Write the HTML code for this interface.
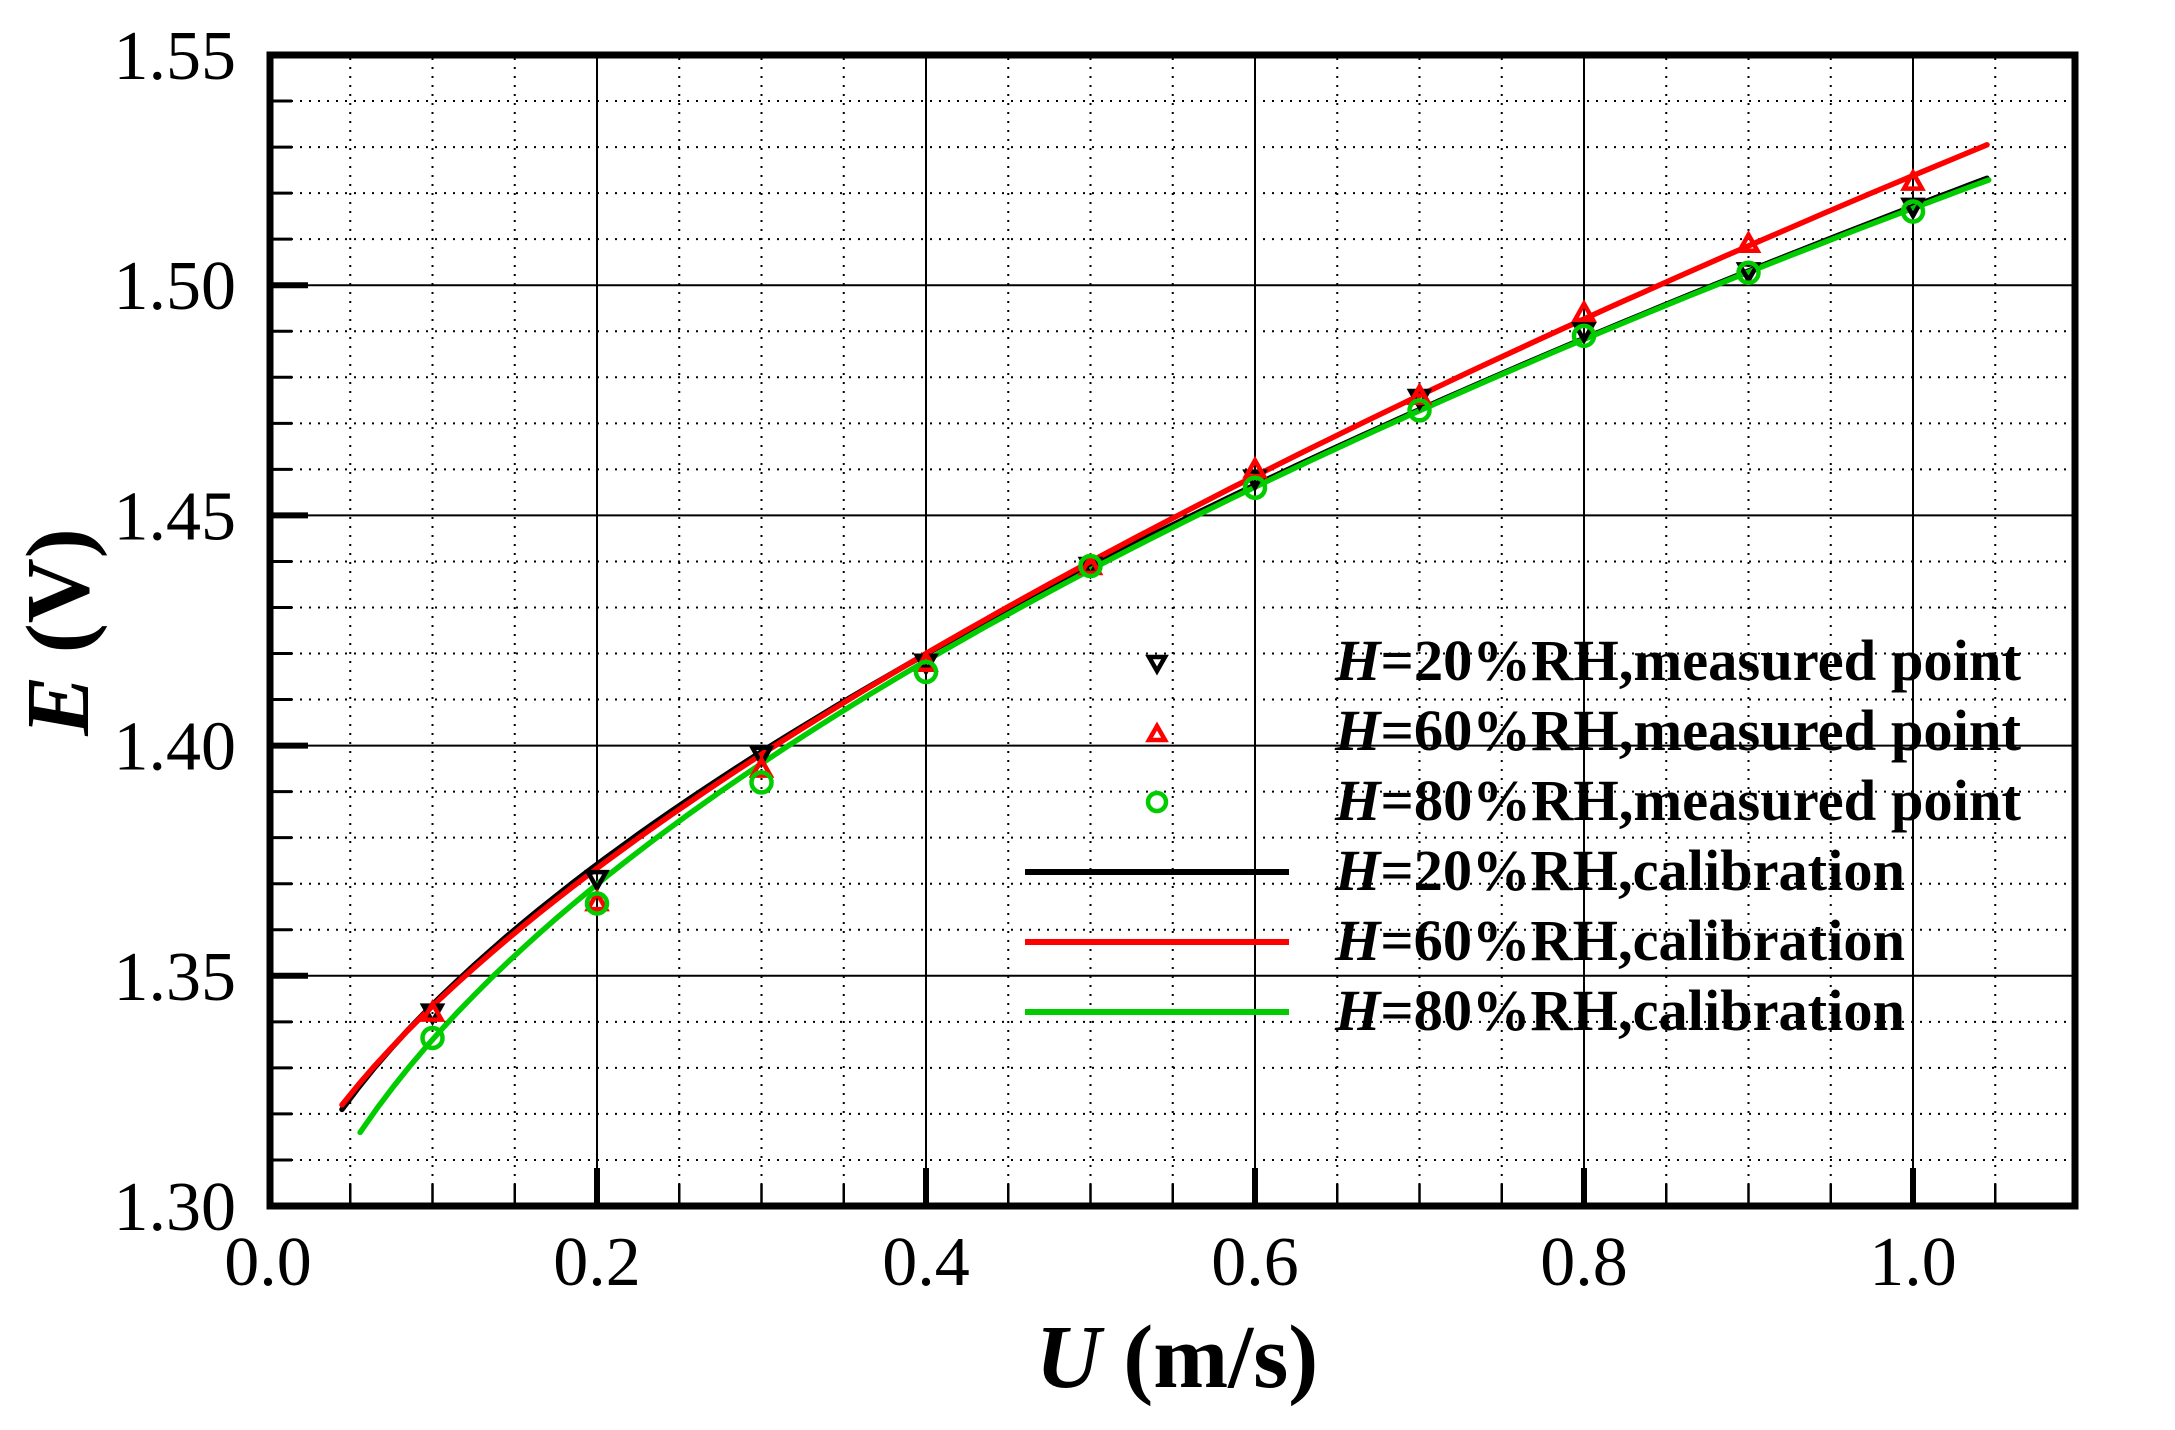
<!DOCTYPE html>
<html><head><meta charset="utf-8"><style>
html,body{margin:0;padding:0;background:#fff;}
svg{display:block;font-family:"Liberation Serif",serif;}
</style></head><body>
<svg id="s" width="2175" height="1430" viewBox="0 0 2175 1430" xmlns="http://www.w3.org/2000/svg">
<g id="grid"></g>
<g id="curves" fill="none" stroke-width="5.5" stroke-linejoin="round" stroke-linecap="round"></g>
<g id="marks" fill="none" stroke-width="4.5"></g>
<rect x="270" y="55" width="1805" height="1151" fill="none" stroke="#000" stroke-width="7"/>
<g id="labels" font-size="70" fill="#000"></g>
<text x="1177" y="1387" font-size="90" font-weight="bold" text-anchor="middle"><tspan font-style="italic">U</tspan> (m/s)</text>
<text transform="translate(88,632) rotate(-90)" font-size="90" font-weight="bold" text-anchor="middle"><tspan font-style="italic">E</tspan> (V)</text>
<g font-size="58" font-weight="bold">
<text x="1335" y="680" textLength="686" lengthAdjust="spacingAndGlyphs"><tspan font-style="italic">H</tspan>=20%RH,measured point</text>
<text x="1335" y="750" textLength="686" lengthAdjust="spacingAndGlyphs"><tspan font-style="italic">H</tspan>=60%RH,measured point</text>
<text x="1335" y="820" textLength="686" lengthAdjust="spacingAndGlyphs"><tspan font-style="italic">H</tspan>=80%RH,measured point</text>
<text x="1335" y="890" textLength="570" lengthAdjust="spacingAndGlyphs"><tspan font-style="italic">H</tspan>=20%RH,calibration</text>
<text x="1335" y="960" textLength="570" lengthAdjust="spacingAndGlyphs"><tspan font-style="italic">H</tspan>=60%RH,calibration</text>
<text x="1335" y="1030" textLength="570" lengthAdjust="spacingAndGlyphs"><tspan font-style="italic">H</tspan>=80%RH,calibration</text>
</g>
<line x1="1025" y1="872" x2="1289" y2="872" stroke="#000" stroke-width="6"/>
<line x1="1025" y1="942" x2="1289" y2="942" stroke="#f00" stroke-width="6"/>
<line x1="1025" y1="1012" x2="1289" y2="1012" stroke="#00cc00" stroke-width="6"/>
<polygon points="1149,657 1165,657 1157,671" fill="none" stroke="#000" stroke-width="4.5"/>
<polygon points="1149,740 1165,740 1157,726" fill="none" stroke="#f00" stroke-width="4.5"/>
<circle cx="1157" cy="802" r="9" fill="none" stroke="#00cc00" stroke-width="4.5"/>
</svg>
<script>
var NS="http://www.w3.org/2000/svg";
function X(u){return 268+u*1645;}
function Y(e){return 1206-(e-1.30)*4604;}
function el(p,t,a){var e=document.createElementNS(NS,t);for(var k in a)e.setAttribute(k,a[k]);p.appendChild(e);return e;}
var g=document.getElementById('grid');
// minor vertical dotted
for(var i=1;i<=21;i++){var u=i*0.05;var x=X(u);if(x>2072)break;
 if(i%4==0){el(g,'line',{x1:x,y1:58,x2:x,y2:1203,stroke:'#000','stroke-width':2});
  el(g,'line',{x1:x,y1:1168,x2:x,y2:1206,stroke:'#000','stroke-width':6});}
 else{el(g,'line',{x1:x,y1:58,x2:x,y2:1203,stroke:'#000','stroke-width':2,'stroke-dasharray':'2 7'});
  el(g,'line',{x1:x,y1:1184,x2:x,y2:1206,stroke:'#000','stroke-width':2.5});}
}
for(var j=1;j<25;j++){var e=1.30+j*0.01;var y=Y(e);
 if(j%5==0){el(g,'line',{x1:273,y1:y,x2:2072,y2:y,stroke:'#000','stroke-width':2});
  el(g,'line',{x1:270,y1:y,x2:308,y2:y,stroke:'#000','stroke-width':6});}
 else{el(g,'line',{x1:273,y1:y,x2:2072,y2:y,stroke:'#000','stroke-width':2,'stroke-dasharray':'2 7'});
  el(g,'line',{x1:270,y1:y,x2:292,y2:y,stroke:'#000','stroke-width':3});}
}
var L=document.getElementById('labels');
['1.30','1.35','1.40','1.45','1.50','1.55'].forEach(function(t,k){var y=1206-k*230.2;
 var tx=el(L,'text',{x:236,y:y+24,'text-anchor':'end'});tx.textContent=t;});
['0.0','0.2','0.4','0.6','0.8','1.0'].forEach(function(t,k){
 var tx=el(L,'text',{x:X(k*0.2),y:1285,'text-anchor':'middle'});tx.textContent=t;});
var C=document.getElementById('curves');
function curve(a,b,n,u0,u1,col){var d='';for(var u=u0;u<=u1+1e-9;u+=0.01){var e=a+b*Math.pow(u,n);d+=(d?'L':'M')+X(u).toFixed(1)+','+Y(e).toFixed(1);}
 el(C,'path',{d:d,stroke:col});}
curve(1.2828,0.2343,0.585,0.045,1.05,'#000');
curve(1.2898,0.234,0.64,0.045,1.05,'#f00');
curve(1.2593,0.2574,0.525,0.056,1.05,'#00cc00');
var M=document.getElementById('marks');
var k20=[1.342,1.371,1.398,1.418,1.439,1.458,1.4755,1.490,1.503,1.517];
var r60=[1.342,1.366,1.395,1.418,1.439,1.460,1.476,1.494,1.509,1.5225];
var g80=[1.3365,1.3657,1.392,1.416,1.439,1.456,1.4728,1.489,1.5027,1.516];
for(var i=0;i<10;i++){var x=X((i+1)*0.1);
 var y=Y(k20[i]);el(M,'polygon',{points:(x-9)+','+(y-7)+' '+(x+9)+','+(y-7)+' '+x+','+(y+9),stroke:'#000'});
 y=Y(r60[i]);el(M,'polygon',{points:(x-9)+','+(y+7)+' '+(x+9)+','+(y+7)+' '+x+','+(y-9),stroke:'#f00'});
 y=Y(g80[i]);el(M,'circle',{cx:x,cy:y,r:10,stroke:'#00cc00'});
}
</script>
</body></html>
